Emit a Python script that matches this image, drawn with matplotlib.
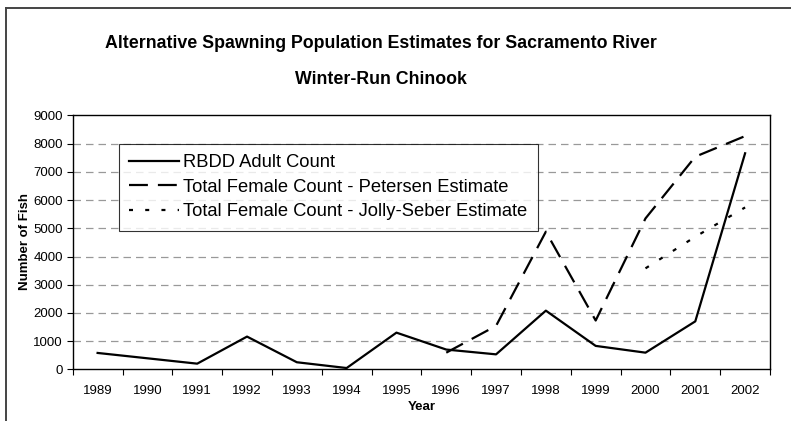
import matplotlib
matplotlib.use("Agg")
import matplotlib.pyplot as plt
import numpy as np
from matplotlib.lines import Line2D

plt.rcParams['font.family'] = ['Liberation Sans', 'DejaVu Sans']

years = ["1989", "1990", "1991", "1992", "1993", "1994", "1995", "1996",
         "1997", "1998", "1999", "2000", "2001", "2002"]
rbdd = [580, 390, 200, 1160, 250, 45, 1300, 700, 530, 2080, 830, 590, 1700, 7660]
petersen = [np.nan] * 7 + [590, 1540, 4880, 1730, 5350, 7540, 8270]
jolly = [np.nan] * 11 + [3580, 4700, 5740]

W, H = 791, 421
fig = plt.figure(figsize=(W/100, H/100), dpi=100)
L, R, T, B = 72.7, 770, 115.5, 369.3
ax = fig.add_axes([L/W, 1-B/H, (R-L)/W, (B-T)/H])

x = np.arange(len(years))
ax.plot(x, rbdd, color='black', lw=1.6, label='RBDD Adult Count')
ax.plot(x, petersen, color='black', lw=1.6, dashes=(8.5, 4.5), label='Total Female Count - Petersen Estimate')
ax.plot(x, jolly, color='black', lw=1.6, dashes=(1.8, 5.5), label='Total Female Count - Jolly-Seber Estimate')

ax.set_xlim(-0.5, len(years) - 0.5)
ax.set_ylim(0, 9000)
ax.set_yticks(np.arange(0, 9001, 1000))
ax.tick_params(axis='y', labelsize=9.5, direction='out', length=4, width=0.8, pad=3)
ax.set_xticks(x)
ax.set_xticklabels(years, fontsize=9.5)
ax.tick_params(axis='x', which='major', length=0, pad=11)
ax.set_xticks(np.arange(-0.5, len(years)), minor=True)
ax.tick_params(axis='x', which='minor', length=4, width=0.8, direction='out')

for v in range(1000, 9000, 1000):
    ax.axhline(v, color='#999999', lw=0.9, dashes=(6, 4), zorder=0)

for s in ax.spines.values():
    s.set_linewidth(1.0)
    s.set_color('black')

ax.set_ylabel('Number of Fish', fontsize=9.5, fontweight='bold', va='center')
ax.yaxis.set_label_coords((25 - L)/(R - L), 0.5 - (241 - (T+B)/2)/(B-T))
ax.set_xlabel('Year', fontsize=9.5, fontweight='bold', va='center')
ax.xaxis.set_label_coords(0.5, -(407 - B)/(B - T))

leg = ax.legend(loc='upper left', bbox_to_anchor=((119.3-L)/(R-L), (B-144)/(B-T)),
                fontsize=13.2, frameon=True, fancybox=False, edgecolor='black',
                handlelength=2.7, handletextpad=0.25, borderpad=0.55, labelspacing=0.42,
                borderaxespad=0)
leg.get_frame().set_linewidth(0.8)

fig.text(381/W, 1-43/H, 'Alternative Spawning Population Estimates for Sacramento River',
         ha='center', va='center', fontsize=12.8, fontweight='bold')
fig.text(381/W, 1-79/H, 'Winter-Run Chinook',
         ha='center', va='center', fontsize=12.8, fontweight='bold')

fig.add_artist(Line2D([6/W, 6/W], [0, 1-8/H], transform=fig.transFigure, color='#444444', lw=1.4))
fig.add_artist(Line2D([6/W, 1], [1-8/H, 1-8/H], transform=fig.transFigure, color='#444444', lw=1.4))

fig.savefig('out.png', dpi=100)
